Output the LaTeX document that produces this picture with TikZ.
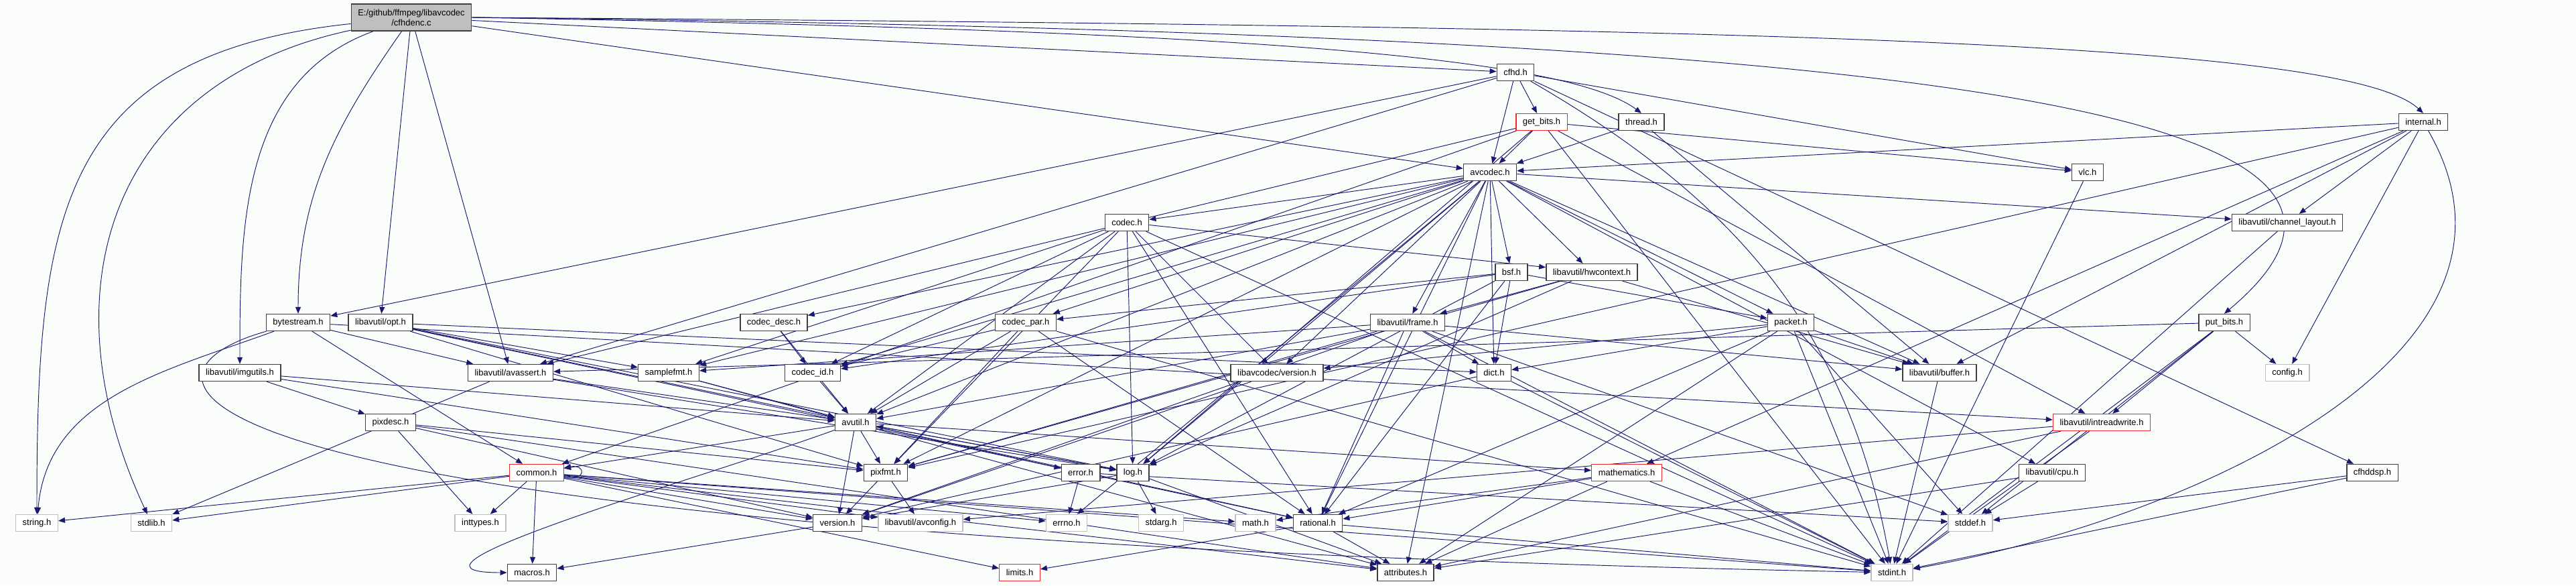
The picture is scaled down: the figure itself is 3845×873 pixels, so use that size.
\documentclass[tikz,border=0pt]{standalone}
\usepackage{fontspec}
\setmainfont{Liberation Sans}
\usepackage{tikz}
\usetikzlibrary{arrows.meta, backgrounds}
\definecolor{depnavy}{RGB}{25,25,112}
\definecolor{boxdark}{RGB}{64,64,64}
\definecolor{boxgray}{RGB}{191,191,191}
\definecolor{boxred}{RGB}{240,40,40}
\definecolor{paper}{RGB}{251,253,251}

\begin{document}
\begin{tikzpicture}[
    x=1pt, y=1pt,
    >={Triangle[length=10pt, width=8pt]},
    hdr/.style={rectangle, draw=#1, line width=1.4pt, fill=white,
                minimum height=25pt, inner xsep=10pt, inner ysep=0pt,
                font=\fontsize{13pt}{15pt}\selectfont},
    hdr/.default=boxdark,
    dep/.style={->, line width=0.95pt, depnavy},
]
    \useasboundingbox (0,0) rectangle (3845,-873);

    % the file itself
    \node[hdr, fill=boxgray, minimum height=40pt, align=center] (main) at (614,-26) {E:/github/ffmpeg/libavcodec\\/cfhdenc.c};

    % libavcodec headers
    \node[hdr] (cfhd) at (2262,-108) {cfhd.h};
    \node[hdr=boxred] (getbits) at (2301,-182) {get\_bits.h};
    \node[hdr] (thread) at (2450,-182) {thread.h};
    \node[hdr] (internal) at (3617,-182) {internal.h};
    \node[hdr] (avcodec) at (2224,-257) {avcodec.h};
    \node[hdr] (vlc) at (3116,-257) {vlc.h};
    \node[hdr] (codec) at (1682,-332) {codec.h};
    \node[hdr] (chlayout) at (3414,-332) {libavutil/channel\_layout.h};
    \node[hdr] (bsf) at (2256,-406) {bsf.h};
    \node[hdr] (hwcontext) at (2376,-406) {libavutil/hwcontext.h};
    \node[hdr] (bytestream) at (445,-481) {bytestream.h};
    \node[hdr] (opt) at (568,-481) {libavutil/opt.h};
    \node[hdr] (codecdesc) at (1155,-481) {codec\_desc.h};
    \node[hdr] (codecpar) at (1531,-481) {codec\_par.h};
    \node[hdr] (frame) at (2101,-481) {libavutil/frame.h};
    \node[hdr] (packet) at (2673,-481) {packet.h};
    \node[hdr] (putbits) at (3320,-481) {put\_bits.h};
    \node[hdr] (imgutils) at (358,-556) {libavutil/imgutils.h};
    \node[hdr] (avassert) at (762,-556) {libavutil/avassert.h};
    \node[hdr] (samplefmt) at (998,-556) {samplefmt.h};
    \node[hdr] (codecid) at (1213,-556) {codec\_id.h};
    \node[hdr] (lavcversion) at (1906,-556) {libavcodec/version.h};
    \node[hdr] (dict) at (2230,-556) {dict.h};
    \node[hdr] (buffer) at (2895,-556) {libavutil/buffer.h};
    \node[hdr=boxgray] (config) at (3414,-556) {config.h};

    % libavutil headers
    \node[hdr] (pixdesc) at (583,-630) {pixdesc.h};
    \node[hdr] (avutil) at (1277,-630) {avutil.h};
    \node[hdr=boxred] (intreadwrite) at (3137,-630) {libavutil/intreadwrite.h};
    \node[hdr=boxred] (common) at (801,-705) {common.h};
    \node[hdr] (pixfmt) at (1322,-705) {pixfmt.h};
    \node[hdr] (error) at (1613,-705) {error.h};
    \node[hdr] (log) at (1691,-705) {log.h};
    \node[hdr=boxred] (mathematics) at (2428,-705) {mathematics.h};
    \node[hdr] (cpu) at (3063,-705) {libavutil/cpu.h};
    \node[hdr] (cfhddsp) at (3541,-705) {cfhddsp.h};
    \node[hdr] (version) at (1250,-780) {version.h};
    \node[hdr=boxgray] (avconfig) at (1374,-780) {libavutil/avconfig.h};
    \node[hdr] (rational) at (1967,-780) {rational.h};
    \node[hdr] (macros) at (794,-854) {macros.h};
    \node[hdr] (attributes) at (2098,-854) {attributes.h};

    % system headers
    \node[hdr=boxgray] (stringh) at (55,-780) {string.h};
    \node[hdr=boxgray] (stdlib) at (226,-780) {stdlib.h};
    \node[hdr=boxgray] (inttypes) at (717,-780) {inttypes.h};
    \node[hdr=boxgray] (errno) at (1592,-780) {errno.h};
    \node[hdr=boxgray] (stdarg) at (1733,-780) {stdarg.h};
    \node[hdr=boxgray] (math) at (1874,-780) {math.h};
    \node[hdr=boxgray] (stddef) at (2941,-780) {stddef.h};
    \node[hdr=boxred] (limits) at (1522,-854) {limits.h};
    \node[hdr=boxgray] (stdint) at (2824,-854) {stdint.h};

    \begin{scope}[on background layer]
    \fill[paper] (0,0) rectangle (3845,-873);

    % cfhdenc.c
    \draw[dep] (main) to[out=186, in=90, looseness=1.3] (stringh);
    \draw[dep] (main) to[out=192, in=115, looseness=1.2] (stdlib);
    \draw[dep] (main) to[out=200, in=90] (imgutils);
    \draw[dep] (main) to[out=235, in=90] (bytestream);
    \draw[dep] (main) -- (opt);
    \draw[dep] (main) -- (avassert);
    \draw[dep] (main) -- (avcodec);
    \draw[dep] (main) -- (cfhd);
    \draw[dep] (main.east) .. controls (1800,-45) and (2330,-80) .. (thread.north);
    \draw[dep] (main.east) .. controls (2600,-40) and (3500,-60) .. (internal.north);
    \draw[dep] (main.east) .. controls (2800,-50) and (3700,-150) .. (putbits.north);

    % cfhd.h
    \draw[dep] (cfhd) -- (avassert);
    \draw[dep] (cfhd) -- (bytestream);
    \draw[dep] (cfhd) -- (avcodec);
    \draw[dep] (cfhd) -- (getbits);
    \draw[dep] (cfhd) -- (vlc);
    \draw[dep] (cfhd) -- (cfhddsp);
    \draw[dep] (cfhd) to[out=-30, in=100] (stdint);

    % get_bits.h
    \draw[dep] (getbits) -- (avcodec);
    \draw[dep] (getbits) -- (common);
    \draw[dep] (getbits) -- (avassert);
    \draw[dep] (getbits) -- (vlc);
    \draw[dep] (getbits) -- (intreadwrite);
    \draw[dep] (getbits) -- (log);
    \draw[dep] (getbits) -- (stdint);

    % thread.h
    \draw[dep] (thread) -- (avcodec);
    \draw[dep] (thread) -- (buffer);

    % internal.h
    \draw[dep] (internal) -- (avcodec);
    \draw[dep] (internal) -- (chlayout);
    \draw[dep] (internal) -- (buffer);
    \draw[dep] (internal) -- (mathematics);
    \draw[dep] (internal) -- (pixfmt);
    \draw[dep] (internal) -- (config);
    \draw[dep] (internal) to[out=-60, in=10] (stdint);

    % avcodec.h
    \draw[dep] (avcodec) -- (codec);
    \draw[dep] (avcodec) -- (bsf);
    \draw[dep] (avcodec) -- (hwcontext);
    \draw[dep] (avcodec) -- (codecdesc);
    \draw[dep] (avcodec) -- (codecpar);
    \draw[dep] (avcodec) -- (codecid);
    \draw[dep] (avcodec) -- (frame);
    \draw[dep] (avcodec) -- (packet);
    \draw[dep] (avcodec) -- (samplefmt);
    \draw[dep] (avcodec) -- (avutil);
    \draw[dep] (avcodec) -- (buffer);
    \draw[dep] (avcodec) -- (cpu);
    \draw[dep] (avcodec) -- (chlayout);
    \draw[dep] (avcodec) -- (dict);
    \draw[dep] (avcodec) -- (log);
    \draw[dep] (avcodec) -- (pixfmt);
    \draw[dep] (avcodec) -- (rational);
    \draw[dep] (avcodec) -- (errno);
    \draw[dep] (avcodec) -- (attributes);
    \draw[dep] (avcodec) -- (lavcversion);

    % vlc.h, channel_layout.h
    \draw[dep] (vlc) -- (stdint);
    \draw[dep] (chlayout) -- (stdint);

    % codec.h
    \draw[dep] (codec) -- (hwcontext);
    \draw[dep] (codec) -- (avutil);
    \draw[dep] (codec) -- (log);
    \draw[dep] (codec) -- (pixfmt);
    \draw[dep] (codec) -- (rational);
    \draw[dep] (codec) -- (samplefmt);
    \draw[dep] (codec) -- (codecid);
    \draw[dep] (codec) -- (lavcversion);
    \draw[dep] (codec) -- (stdint);

    % bsf.h
    \draw[dep] (bsf) -- (dict);
    \draw[dep] (bsf) -- (log);
    \draw[dep] (bsf) -- (rational);
    \draw[dep] (bsf) -- (codecid);
    \draw[dep] (bsf) -- (codecpar);
    \draw[dep] (bsf) -- (packet);

    % hwcontext.h
    \draw[dep] (hwcontext) -- (buffer);
    \draw[dep] (hwcontext) -- (frame);
    \draw[dep] (hwcontext) -- (log);
    \draw[dep] (hwcontext) -- (pixfmt);

    % bytestream.h
    \draw[dep] (bytestream) to[out=200, in=85] (stringh);
    \draw[dep] (bytestream) -- (avassert);
    \draw[dep] (bytestream) -- (common);
    \draw[dep] (bytestream) -- (intreadwrite);
    \draw[dep] (bytestream) .. controls (160,-560) and (170,-800) .. (stdint);

    % opt.h
    \draw[dep] (opt) -- (avutil);
    \draw[dep] (opt) -- (dict);
    \draw[dep] (opt) -- (log);
    \draw[dep] (opt) -- (pixfmt);
    \draw[dep] (opt) -- (rational);
    \draw[dep] (opt) -- (samplefmt);

    % codec_desc.h, codec_par.h
    \draw[dep] (codecdesc) -- (avutil);
    \draw[dep] (codecdesc) -- (codecid);
    \draw[dep] (codecpar) -- (avutil);
    \draw[dep] (codecpar) -- (rational);
    \draw[dep] (codecpar) -- (pixfmt);
    \draw[dep] (codecpar) -- (codecid);
    \draw[dep] (codecpar) -- (stdint);

    % frame.h
    \draw[dep] (frame) -- (avutil);
    \draw[dep] (frame) -- (buffer);
    \draw[dep] (frame) -- (dict);
    \draw[dep] (frame) -- (rational);
    \draw[dep] (frame) -- (samplefmt);
    \draw[dep] (frame) -- (pixfmt);
    \draw[dep] (frame) -- (version);
    \draw[dep] (frame) -- (stddef);
    \draw[dep] (frame) -- (stdint);

    % packet.h
    \draw[dep] (packet) -- (attributes);
    \draw[dep] (packet) -- (buffer);
    \draw[dep] (packet) -- (dict);
    \draw[dep] (packet) -- (rational);
    \draw[dep] (packet) -- (lavcversion);
    \draw[dep] (packet) -- (stddef);
    \draw[dep] (packet) -- (stdint);

    % put_bits.h
    \draw[dep] (putbits) -- (avassert);
    \draw[dep] (putbits) -- (intreadwrite);
    \draw[dep] (putbits) -- (config);
    \draw[dep] (putbits) -- (stddef);
    \draw[dep] (putbits) -- (stdint);

    % imgutils.h, avassert.h, samplefmt.h
    \draw[dep] (imgutils) -- (avutil);
    \draw[dep] (imgutils) -- (pixdesc);
    \draw[dep] (imgutils) -- (pixfmt);
    \draw[dep] (avassert) -- (stdlib);
    \draw[dep] (avassert) -- (avutil);
    \draw[dep] (avassert) -- (log);
    \draw[dep] (samplefmt) -- (avutil);
    \draw[dep] (samplefmt) -- (attributes);

    % codec_id.h, version.h, dict.h, buffer.h
    \draw[dep] (codecid) -- (avutil);
    \draw[dep] (lavcversion) -- (version);
    \draw[dep] (dict) -- (version);
    \draw[dep] (dict) -- (stdint);
    \draw[dep] (buffer) -- (stdint);

    % pixdesc.h
    \draw[dep] (pixdesc) -- (inttypes);
    \draw[dep] (pixdesc) -- (attributes);
    \draw[dep] (pixdesc) -- (pixfmt);
    \draw[dep] (pixdesc) -- (version);

    % avutil.h
    \draw[dep] (avutil) -- (common);
    \draw[dep] (avutil) -- (error);
    \draw[dep] (avutil) -- (log);
    \draw[dep] (avutil) -- (pixfmt);
    \draw[dep] (avutil) -- (mathematics);
    \draw[dep] (avutil) -- (rational);
    \draw[dep] (avutil) -- (version);
    \draw[dep] (avutil) to[out=200, in=180] (macros);

    % intreadwrite.h
    \draw[dep] (intreadwrite) -- (avconfig);
    \draw[dep] (intreadwrite) -- (attributes);
    \draw[dep] (intreadwrite) -- (stdint);

    % common.h
    \draw[dep] (common.-10) to[out=-10, in=10, looseness=6] (common.10);
    \draw[dep] (common) -- (stringh);
    \draw[dep] (common) -- (stdlib);
    \draw[dep] (common) -- (inttypes);
    \draw[dep] (common) -- (macros);
    \draw[dep] (common) -- (version);
    \draw[dep] (common) -- (avconfig);
    \draw[dep] (common) -- (errno);
    \draw[dep] (common) -- (math);
    \draw[dep] (common) -- (limits);
    \draw[dep] (common) -- (attributes);
    \draw[dep] (common) -- (stdint);

    % pixfmt.h, error.h, log.h
    \draw[dep] (pixfmt) -- (avconfig);
    \draw[dep] (pixfmt) -- (version);
    \draw[dep] (error) -- (errno);
    \draw[dep] (error) -- (stddef);
    \draw[dep] (log) -- (avutil);
    \draw[dep] (log) -- (stdarg);
    \draw[dep] (log) -- (attributes);
    \draw[dep] (log) -- (version);

    % mathematics.h, cpu.h, cfhddsp.h
    \draw[dep] (mathematics) -- (math);
    \draw[dep] (mathematics) -- (rational);
    \draw[dep] (mathematics) -- (attributes);
    \draw[dep] (mathematics) -- (stdint);
    \draw[dep] (cpu) -- (stddef);
    \draw[dep] (cpu) -- (attributes);
    \draw[dep] (cfhddsp) -- (stddef);
    \draw[dep] (cfhddsp) -- (stdint);

    % rational.h, version.h
    \draw[dep] (rational) -- (limits);
    \draw[dep] (rational) -- (attributes);
    \draw[dep] (rational) -- (stdint);
    \draw[dep] (version) -- (macros);
    \end{scope}
\end{tikzpicture}
\end{document}
